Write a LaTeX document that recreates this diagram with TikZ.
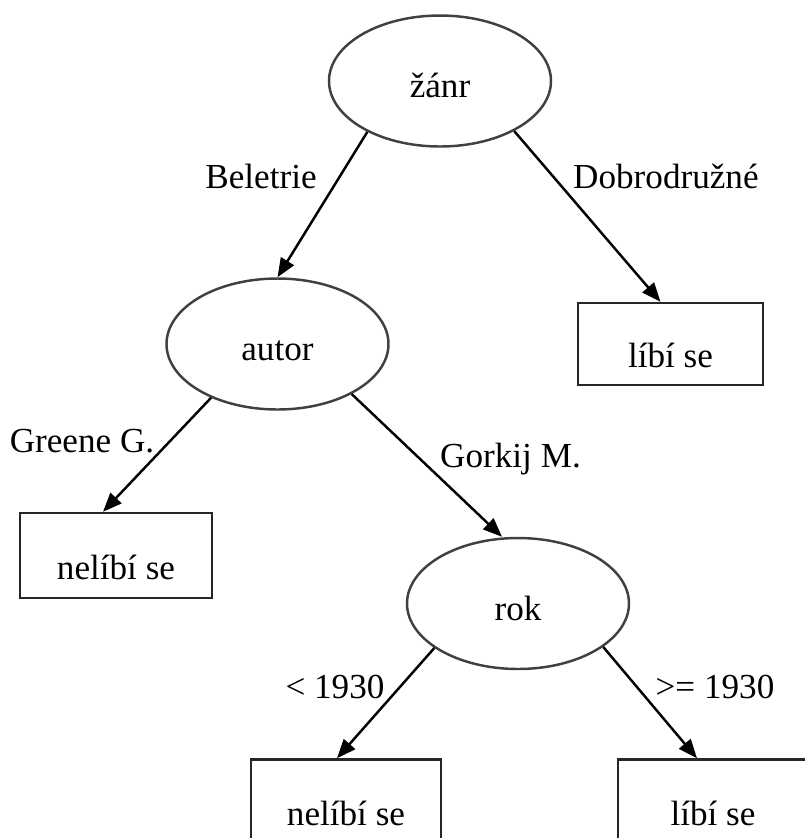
\documentclass[tikz,border=0pt]{standalone}
\usepackage{fontspec}
\setmainfont{Liberation Serif}
\usetikzlibrary{arrows.meta, shapes.geometric}

\begin{document}
\begin{tikzpicture}[x=0.1mm, y=-0.1mm,
      >={Triangle[length=1.9mm, width=1.5mm]}, line width=0.7pt,
      attr/.style={ellipse, draw=black!75, minimum width=22.2mm,
                   minimum height=13.1mm, inner sep=0pt,
                   text height=0.96em, text depth=0pt},
      leaf/.style={rectangle, draw=black!85, minimum width=19mm,
                   minimum height=8.4mm, inner sep=0pt,
                   text height=1.35em, text depth=0pt},
      lbl/.style={inner sep=0pt, anchor=base}]
    \useasboundingbox (0,0) rectangle (805,838);

    % attributes
    \node[attr] (zanr) at (440,81) {žánr};
    \node[attr] (autor) at (277.5,344) {autor};
    \node[attr] (rok) at (518,603.5) {rok};

    % leaves
    \node[leaf, minimum width=18.5mm, minimum height=8.2mm] (lib1) at (670.5,344) {líbí se};
    \node[leaf, minimum width=19.2mm, minimum height=8.5mm] (nelib1) at (116,555.5) {nelíbí se};
    \node[leaf] (nelib2) at (346,801.5) {nelíbí se};
    \node[leaf] (lib2) at (713,801.5) {líbí se};

    % branch values
    \node[lbl] (beletrie) at (261,188) {Beletrie};
    \node[lbl, anchor=base west] (dobro) at (572,188) {Dobrodružné};
    \node[lbl] (greene) at (82,452) {Greene G.};
    \node[lbl, anchor=base west] (gorkij) at (439,467) {Gorkij M.};
    \node[lbl] (pred) at (335,698) {< 1930};
    \node[lbl] (po) at (715,698) {>= 1930};

    \draw[->] (zanr.215) -- (autor.north);
    \draw[->] (zanr.326) -- ([xshift=-1mm]lib1.north);
    \draw[->] (autor.219) -- ([xshift=-1.3mm]nelib1.north);
    \draw[->] (autor.326) -- ([xshift=-1.6mm]rok.north);
    \draw[->] (rok.208) -- ([xshift=-0.9mm]nelib2.north);
    \draw[->] (rok.333) -- ([xshift=-1.6mm]lib2.north);
  \end{tikzpicture}
\end{document}
